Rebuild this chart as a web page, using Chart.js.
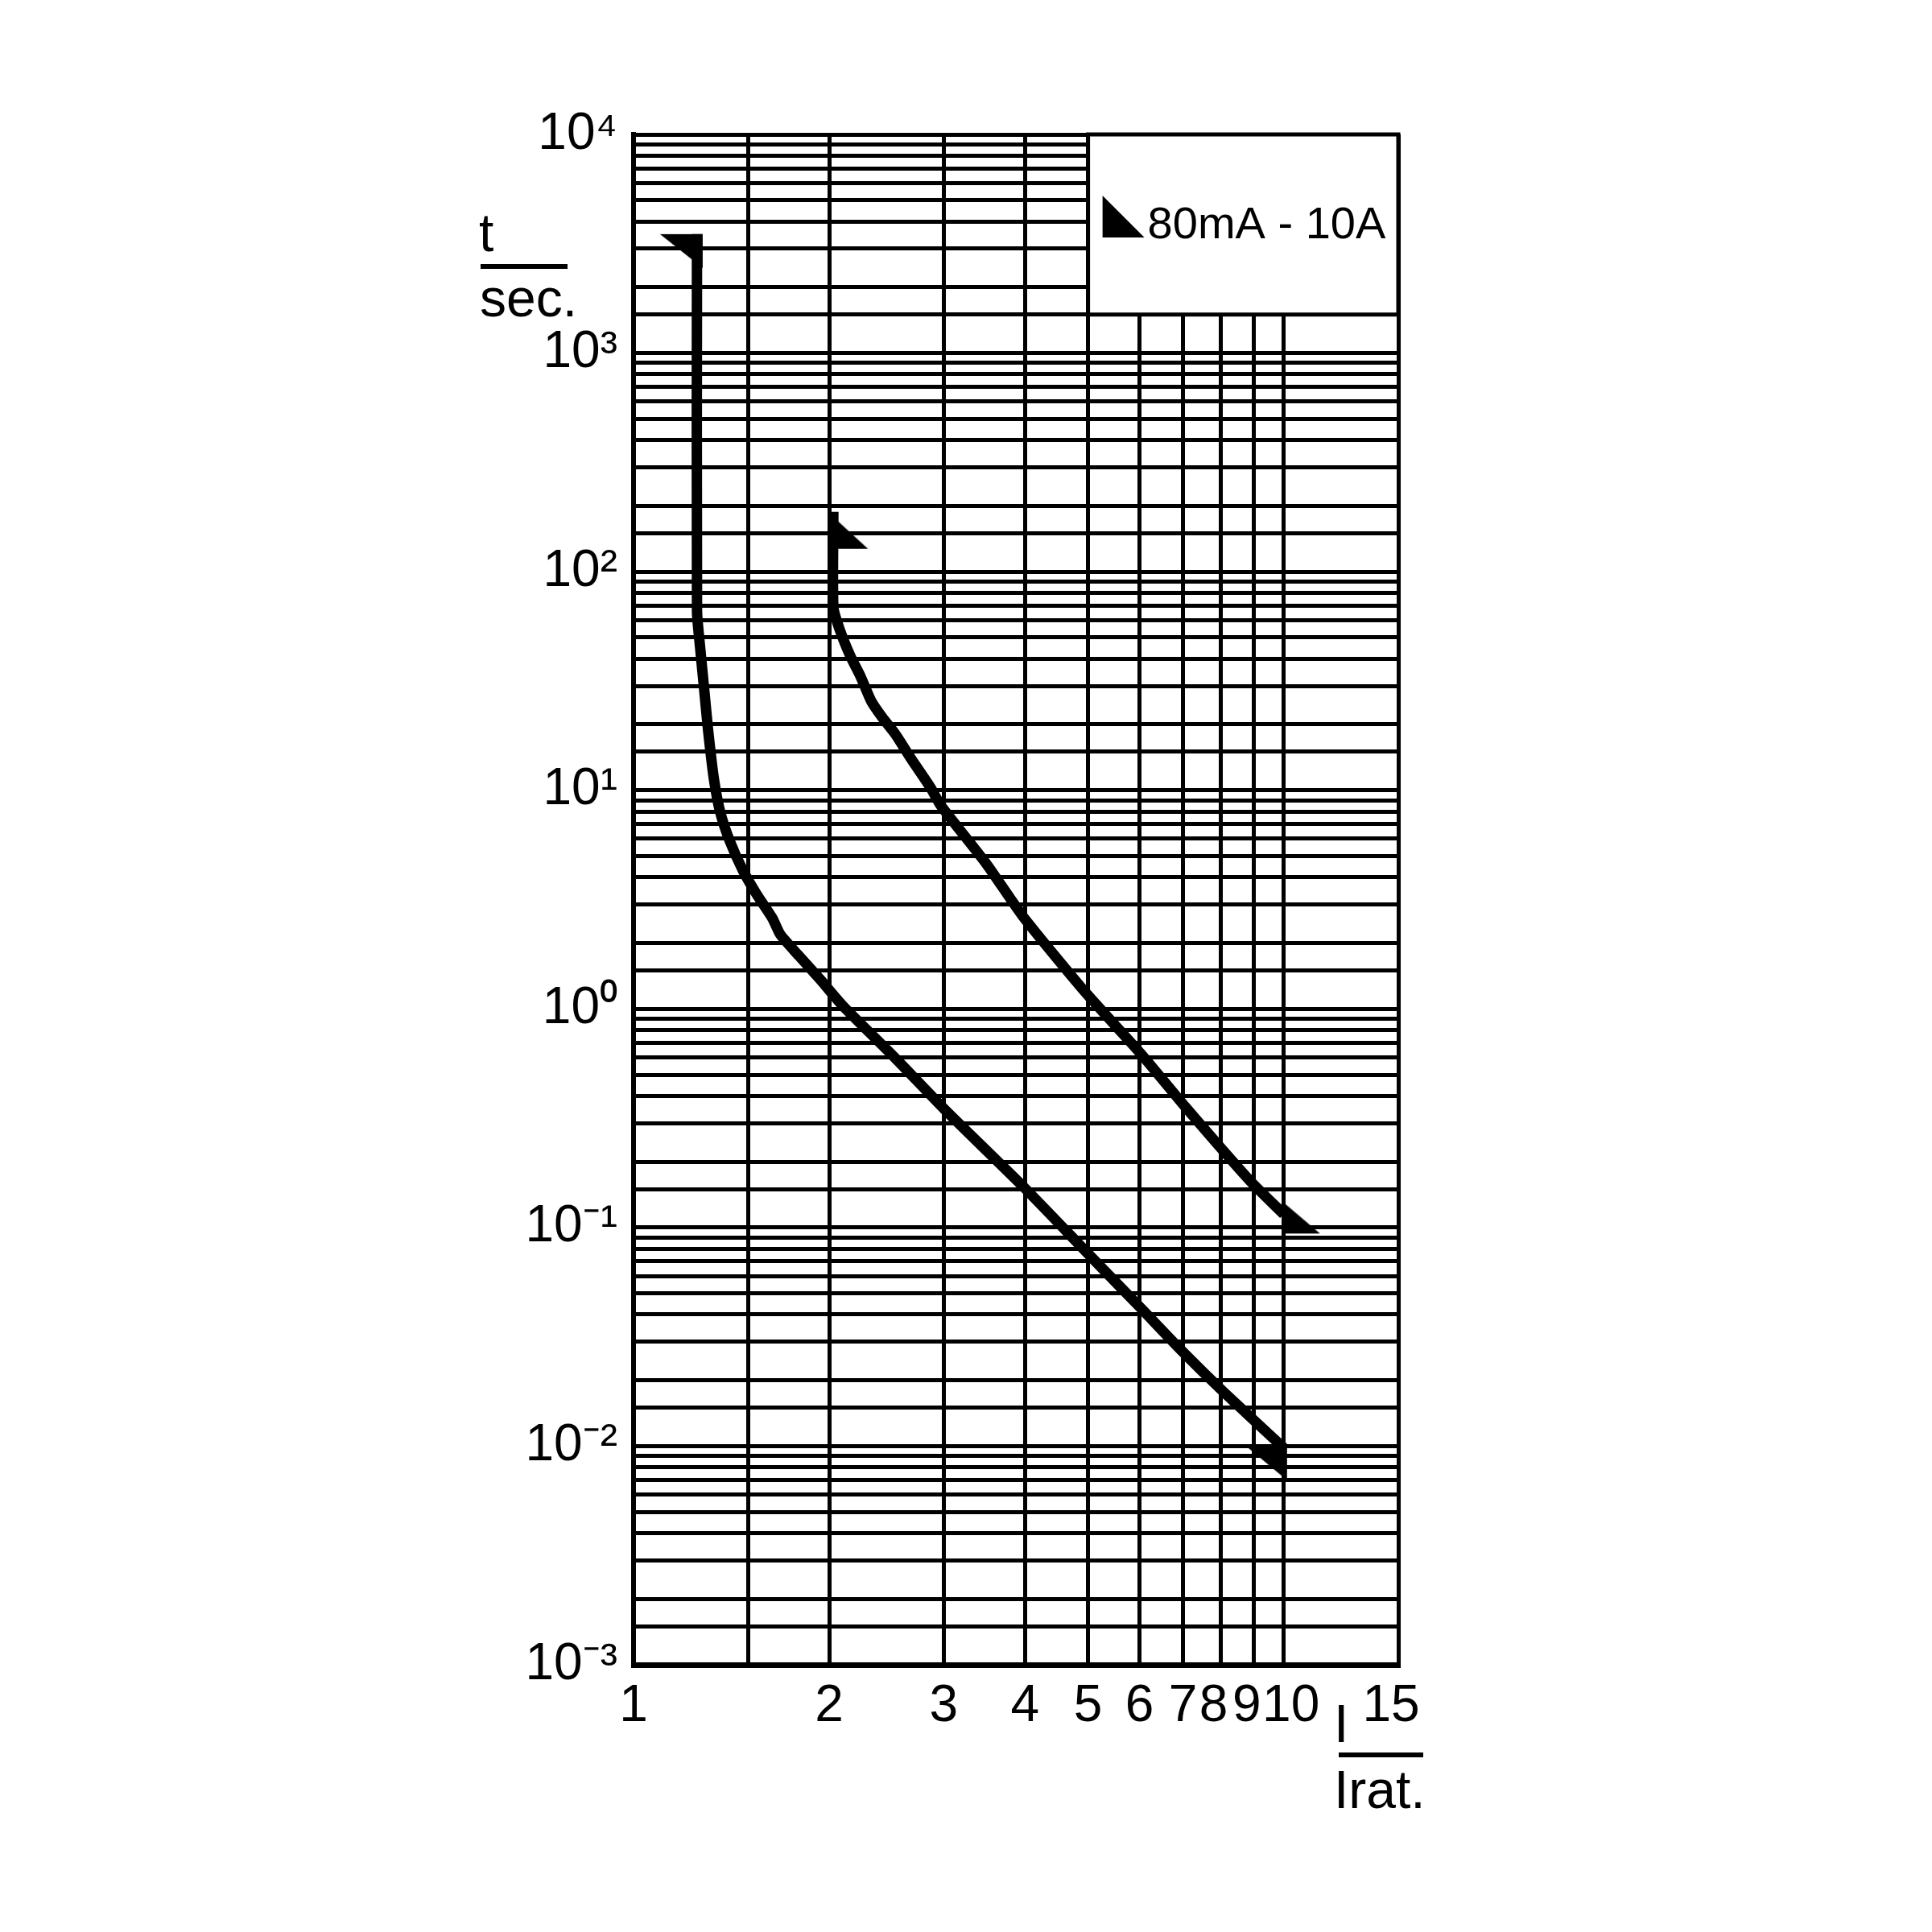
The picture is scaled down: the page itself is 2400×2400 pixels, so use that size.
<!DOCTYPE html>
<html>
<head>
<meta charset="utf-8">
<script src="https://cdn.jsdelivr.net/npm/chart.js@4.4.1/dist/chart.umd.min.js"></script>
<style>
  html, body { margin: 0; padding: 0; background: #fff; }
</style>
</head>
<body>
<canvas id="c" width="2400" height="2400"></canvas>
<script>
// --- data --------------------------------------------------------------
const xTicks = [1, 1.5, 2, 3, 4, 5, 6, 7, 8, 9, 10, 15];
// extra spaces nudge the crowded labels apart like in the original print
const xTickLabels = ["1", "", "2", "3", "4", "5", "6", "7", "8 ", "9 ", " 10", "15 "];
const yDecades = [-3, -2, -1, 0, 1, 2, 3];
const yMinorSteps = [1, 1.5, 2, 3, 4, 5, 6, 7, 8, 9];
const yTickLabels = { "-3": "10⁻³", "-2": "10⁻²", "-1": "10⁻¹", "0": "10⁰", "1": "10¹", "2": "10²", "3": "10³", "4": "10⁴" };

// lower curve
const curve1I = [1.252, 1.252, 1.266, 1.284, 1.302, 1.329, 1.359, 1.406, 1.472, 1.545, 1.635, 1.683, 1.796, 1.94, 2.094, 2.526, 3.0, 4.0, 5.0, 6.05, 6.95, 8.08, 10];
const curve1T = [3500, 66, 44.9, 29.1, 18.9, 11.3, 7.96, 5.86, 4.32, 3.36, 2.6, 2.18, 1.75, 1.355, 1.04, 0.596, 0.35, 0.151, 0.0759, 0.0423, 0.0275, 0.0177, 0.0098];
// upper curve
const curve2I = [2.029, 2.029, 2.07, 2.154, 2.236, 2.32, 2.414, 2.526, 2.674, 2.862, 2.97, 3.49, 3.97, 4.93, 6.05, 7.03, 8.85, 10];
const curve2T = [188, 69, 55.5, 41.2, 33, 25.6, 21.5, 18.1, 13.9, 10.3, 8.5, 4.6, 2.65, 1.21, 0.616, 0.361, 0.165, 0.115];

const legendText = "80mA - 10A";

const FONT = "'Liberation Sans', Arial, sans-serif";

// --- end markers: right triangles drawn onto small canvases --------------
// pts are offsets from the curve end point (canvas centre)
function triangleMarker(pts) {
  const s = 128, c = s / 2;
  const cv = document.createElement("canvas");
  cv.width = s;
  cv.height = s;
  const g = cv.getContext("2d");
  g.fillStyle = "#000";
  g.beginPath();
  pts.forEach(([dx, dy], i) => (i ? g.lineTo(c + dx, c + dy) : g.moveTo(c + dx, c + dy)));
  g.closePath();
  g.fill();
  return cv;
}

const flagUpLeft = triangleMarker([[-46, 0], [7, 0], [7, 42]]);     // lower curve, top end
const flagLowLeft = triangleMarker([[-44, 0], [4, 0], [4, 40]]);    // lower curve, bottom end
const flagUpRight = triangleMarker([[-7, 0], [-7, 46], [43, 46]]);  // upper curve, top end
const flagLowRight = triangleMarker([[-2, -16], [-2, 24], [45, 24]]); // upper curve, bottom end

function toPoints(xs, ys) {
  return xs.map((v, i) => ({ x: v, y: ys[i] }));
}

function endsOnly(first, last) {
  return {
    pointRadius: (ctx) => (ctx.dataIndex === 0 || ctx.dataIndex === ctx.dataset.data.length - 1 ? 1 : 0),
    pointStyle: (ctx) => (ctx.dataIndex === 0 ? first : last),
  };
}

// --- legend box and fraction-style axis titles --------------------------
const overlay = {
  id: "overlay",
  afterDatasetsDraw(chart) {
    const { ctx, chartArea: a, scales: { x, y } } = chart;
    const l = x.getPixelForValue(5), r = x.getPixelForValue(15);
    const t = y.getPixelForValue(10000), b = y.getPixelForValue(1500);
    ctx.save();
    ctx.fillStyle = "#fff";
    ctx.fillRect(l, t, r - l, b - t);
    ctx.strokeStyle = "#000";
    ctx.lineWidth = 5;
    ctx.strokeRect(l, t, r - l, b - t);

    ctx.fillStyle = "#000";
    ctx.beginPath();
    ctx.moveTo(l + 18, t + 76);
    ctx.lineTo(l + 18, t + 128);
    ctx.lineTo(l + 70, t + 128);
    ctx.closePath();
    ctx.fill();
    ctx.font = "56px " + FONT;
    ctx.textBaseline = "alphabetic";
    ctx.textAlign = "left";
    ctx.fillText(legendText, l + 74, t + 129);

    // y title  t / sec.
    ctx.font = "66px " + FONT;
    ctx.fillText("t", a.left - 192, a.top + 145);
    ctx.fillRect(a.left - 190, a.top + 161, 108, 6);
    ctx.fillText("sec.", a.left - 191, a.top + 226);

    // x title  I / Irat.
    ctx.fillText("I", a.right - 80, a.bottom + 96);
    ctx.fillRect(a.right - 74, a.bottom + 109, 105, 6);
    ctx.fillText("Irat.", a.right - 80, a.bottom + 178);
    ctx.restore();
  },
};

const yTickValues = yDecades.flatMap((d) => yMinorSteps.map((m) => m * Math.pow(10, d))).concat([10000]);

const curveStyle = {
  borderColor: "#000",
  borderWidth: 13,
  borderJoinStyle: "round",
  tension: 0.2,
  clip: false,
};

new Chart(document.getElementById("c"), {
  type: "line",
  data: {
    datasets: [
      { data: toPoints(curve1I, curve1T), ...curveStyle, ...endsOnly(flagUpLeft, flagLowLeft) },
      { data: toPoints(curve2I, curve2T), ...curveStyle, ...endsOnly(flagUpRight, flagLowRight) },
    ],
  },
  options: {
    responsive: false,
    animation: false,
    events: [],
    devicePixelRatio: 1,
    layout: { padding: { left: 587, top: 167, right: 663, bottom: 182 } },
    plugins: { legend: { display: false }, tooltip: { enabled: false } },
    scales: {
      x: {
        type: "logarithmic",
        min: 1,
        max: 15,
        afterBuildTicks: (s) => {
          s.ticks = xTicks.map((v) => ({ value: v }));
        },
        afterFit: (s) => {
          s.height = 150;
        },
        ticks: {
          autoSkip: false,
          maxRotation: 0,
          padding: 14,
          color: "#000",
          font: { family: FONT, size: 64 },
          callback: (v, i) => xTickLabels[i],
        },
        grid: { color: "#000", lineWidth: 5, drawTicks: false },
        border: { color: "#000", width: 7 },
      },
      y: {
        type: "logarithmic",
        min: 0.001,
        max: 10000,
        afterBuildTicks: (s) => {
          s.ticks = yTickValues.map((v) => ({ value: v }));
        },
        afterFit: (s) => {
          s.width = 200;
        },
        ticks: {
          autoSkip: false,
          padding: 20,
          color: "#000",
          font: { family: FONT, size: 64 },
          callback: (v) => {
            const e = Math.log10(v);
            return Math.abs(e - Math.round(e)) < 1e-9 ? yTickLabels[String(Math.round(e))] : "";
          },
        },
        grid: { color: "#000", lineWidth: 5, drawTicks: false },
        border: { color: "#000", width: 6 },
      },
    },
  },
  plugins: [overlay],
});
</script>
</body>
</html>
